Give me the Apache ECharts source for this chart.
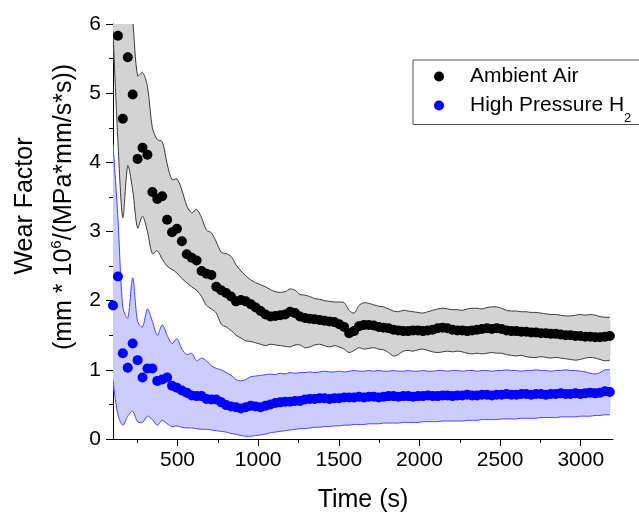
<!DOCTYPE html>
<html><head><meta charset="utf-8">
<script src="https://cdn.jsdelivr.net/npm/echarts@6/dist/echarts.min.js"></script>
<style>html,body{margin:0;padding:0;background:#fff}#c{width:639px;height:518px}</style>
</head><body><div id="c"></div>
<script>
const times = [100,130.5,161,191.5,222,252.5,283,313.5,344,374.5,
405,435.5,466,496.5,527,557.5,588,618.5,649,679.5,
710,740.5,771,801.5,832,862.5,893,923.5,954,984.5,
1015,1045.5,1076,1106.5,1137,1167.5,1198,1228.5,1259,1289.5,
1320,1350.5,1381,1411.5,1442,1472.5,1503,1533.5,1564,1594.5,
1625,1655.5,1686,1716.5,1747,1777.5,1808,1838.5,1869,1899.5,
1930,1960.5,1991,2021.5,2052,2082.5,2113,2143.5,2174,2204.5,
2235,2265.5,2296,2326.5,2357,2387.5,2418,2448.5,2479,2509.5,
2540,2570.5,2601,2631.5,2662,2692.5,2723,2753.5,2784,2814.5,
2845,2875.5,2906,2936.5,2967,2997.5,3028,3058.5,3089,3119.5,
3150,3180.5];

const airWear = [null,5.83,4.63,5.52,4.98,4.05,4.21,4.11,3.57,3.47,
3.51,3.17,2.99,3.04,2.86,2.67,2.62,2.58,2.43,2.39,
2.37,2.20,2.15,2.11,2.06,1.99,2.01,1.99,1.95,1.90,
1.85,1.80,1.77,1.78,1.79,1.80,1.84,1.82,1.77,1.75,
1.74,1.73,1.72,1.71,1.70,1.69,1.66,1.62,1.53,1.56,
1.63,1.65,1.65,1.64,1.62,1.61,1.60,1.58,1.57,1.56,
1.56,1.57,1.57,1.56,1.57,1.58,1.60,1.61,1.60,1.58,
1.57,1.57,1.56,1.57,1.58,1.59,1.60,1.59,1.60,1.59,
1.57,1.56,1.56,1.55,1.55,1.54,1.54,1.53,1.53,1.52,
1.52,1.51,1.50,1.50,1.49,1.49,1.48,1.48,1.47,1.47,
1.48,1.49];

const airUpper = [8.0,7.6,7.0,6.6,6.05,5.25,5.30,5.1,4.5,4.33,
4.3,3.98,3.75,3.76,3.6,3.37,3.27,3.32,3.2,3.02,
2.98,2.85,2.7,2.68,2.64,2.52,2.43,2.36,2.3,2.26,
2.23,2.2,2.16,2.13,2.12,2.13,2.17,2.15,2.09,2.08,
2.06,2.03,2.02,2.0,1.99,1.98,1.98,1.97,1.86,1.82,
1.93,1.97,1.96,1.94,1.92,1.91,1.88,1.85,1.84,1.86,
1.85,1.84,1.83,1.82,1.84,1.86,1.88,1.89,1.88,1.87,
1.87,1.86,1.88,1.89,1.89,1.88,1.9,1.91,1.91,1.89,
1.86,1.85,1.85,1.84,1.84,1.83,1.83,1.82,1.81,1.8,
1.8,1.79,1.78,1.78,1.79,1.8,1.79,1.8,1.79,1.77,
1.76,1.76];

const airLower = [5.9,4.3,3.2,3.95,3.6,3.05,3.22,3.0,2.68,2.72,
2.6,2.5,2.45,2.4,2.32,2.26,2.2,2.15,2.06,1.93,
1.88,1.82,1.66,1.62,1.57,1.5,1.46,1.42,1.41,1.39,
1.37,1.35,1.37,1.36,1.35,1.34,1.33,1.36,1.36,1.32,
1.33,1.36,1.37,1.35,1.33,1.35,1.33,1.30,1.25,1.28,
1.32,1.30,1.31,1.32,1.30,1.29,1.25,1.20,1.22,1.27,
1.28,1.27,1.29,1.30,1.28,1.26,1.25,1.26,1.27,1.26,
1.27,1.26,1.24,1.23,1.24,1.23,1.24,1.25,1.24,1.24,
1.22,1.21,1.20,1.21,1.19,1.18,1.18,1.19,1.18,1.17,
1.18,1.17,1.16,1.15,1.14,1.15,1.17,1.18,1.17,1.15,
1.13,1.14];

const h2Wear = [1.93,2.35,1.24,1.03,1.38,1.14,0.89,1.02,1.02,0.84,
0.86,0.89,0.77,0.74,0.70,0.67,0.63,0.62,0.62,0.58,
0.57,0.57,0.53,0.49,0.47,0.46,0.44,0.46,0.48,0.47,
0.46,0.48,0.50,0.52,0.53,0.54,0.54,0.55,0.55,0.57,
0.58,0.58,0.59,0.59,0.58,0.59,0.59,0.60,0.60,0.60,
0.61,0.60,0.61,0.61,0.60,0.61,0.62,0.62,0.61,0.62,
0.62,0.61,0.62,0.62,0.63,0.62,0.62,0.63,0.63,0.62,
0.63,0.63,0.64,0.63,0.63,0.64,0.64,0.63,0.64,0.64,
0.65,0.64,0.64,0.65,0.65,0.64,0.65,0.65,0.64,0.65,
0.65,0.66,0.65,0.65,0.66,0.65,0.66,0.67,0.66,0.67,
0.69,0.68];

const h2Upper = [4.25,3.2,1.9,1.75,2.33,1.7,1.62,1.88,1.7,1.5,
1.65,1.5,1.38,1.45,1.3,1.22,1.24,1.13,1.17,1.13,
1.06,1.02,1.0,0.96,0.92,0.86,0.84,0.86,0.9,0.91,
0.92,0.93,0.94,0.93,0.95,0.94,0.96,0.95,0.96,0.96,
0.97,0.96,0.97,0.98,0.97,0.97,0.98,0.97,0.98,0.99,
0.98,0.98,0.99,0.98,0.99,0.98,0.98,0.99,0.98,0.98,
0.99,0.98,0.98,0.99,0.98,0.98,0.99,0.99,0.98,0.99,
0.99,0.98,0.99,0.99,0.98,0.99,0.99,0.98,0.99,0.99,
1.0,0.99,0.99,0.98,0.99,0.99,1.0,0.99,0.99,0.98,
0.99,0.99,1.0,0.99,0.99,0.98,0.97,0.95,0.94,0.96,
1.0,1.0];

const h2Lower = [0.85,0.35,0.2,0.33,0.4,0.25,0.24,0.33,0.28,0.2,
0.27,0.22,0.18,0.19,0.17,0.16,0.16,0.15,0.14,0.14,
0.13,0.12,0.11,0.1,0.08,0.07,0.05,0.04,0.04,0.05,
0.06,0.07,0.09,0.1,0.11,0.12,0.13,0.14,0.15,0.15,
0.16,0.17,0.17,0.18,0.18,0.19,0.19,0.2,0.2,0.21,
0.21,0.21,0.22,0.22,0.22,0.23,0.23,0.23,0.23,0.24,
0.24,0.24,0.24,0.25,0.25,0.25,0.25,0.26,0.26,0.26,
0.26,0.26,0.27,0.27,0.27,0.28,0.28,0.28,0.28,0.29,
0.29,0.29,0.29,0.3,0.3,0.3,0.3,0.31,0.31,0.31,
0.31,0.32,0.32,0.32,0.32,0.33,0.33,0.33,0.34,0.34,
0.35,0.35];

const xMajorTicks = [500,1000,1500,2000,2500,3000];
const xMinorTicks = [250,750,1250,1750,2250,2750];
const seriesNames = ['Ambient Air','High Pressure H2'];

const FONT = '"Liberation Sans", Arial, Helvetica, sans-serif';

function pairs(ys){ return times.map((t,i)=>[t, ys[i]]).filter(p=>p[1]!=null); }

function bandSeries(name, lo, up, stroke, fill){
  return {
    type:'custom', name:name, silent:true, clip:true,
    data: times.map((t,i)=>[t, lo[i], up[i]]),
    encode:{x:0, y:[1,2]},
    renderItem:function(params, api){
      if(params.dataIndex!==0) return null;
      const upPts = times.map((t,i)=>api.coord([t, up[i]]));
      const loPts = times.map((t,i)=>api.coord([t, lo[i]]));
      const poly = upPts.concat(loPts.slice().reverse());
      return {type:'group', children:[
        {type:'polygon', shape:{points:poly, smooth:0.3}, style:{fill:fill, stroke:null}},
        {type:'polyline', shape:{points:upPts, smooth:0.3}, style:{stroke:stroke, lineWidth:1, fill:null}},
        {type:'polyline', shape:{points:loPts, smooth:0.3}, style:{stroke:stroke, lineWidth:1, fill:null}}
      ]};
    }
  };
}

const chart = echarts.init(document.getElementById('c'), null, {renderer:'canvas'});
chart.setOption({
  animation:false,
  backgroundColor:'#fff',
  grid:{left:113, right:26, top:24, bottom:78},
  xAxis:[{
    type:'value', min:100, max:3200,
    axisLine:{show:true, lineStyle:{color:'#000', width:1}},
    axisTick:{show:true, length:7, customValues:xMajorTicks, lineStyle:{color:'#000'}},
    axisLabel:{customValues:xMajorTicks, fontSize:21, fontFamily:FONT, color:'#000', margin:11,
      formatter:function(v){ return String(v); }},
    splitLine:{show:false},
    name:'Time (s)', nameLocation:'middle', nameGap:49,
    nameTextStyle:{fontSize:25, fontFamily:FONT, color:'#000'}
  },{
    type:'value', min:100, max:3200, position:'bottom',
    axisLine:{show:false},
    axisTick:{show:true, length:4, customValues:xMinorTicks, lineStyle:{color:'#000'}},
    axisLabel:{show:false}, splitLine:{show:false}
  }],
  yAxis:{
    type:'value', min:0, max:6, interval:1,
    axisLine:{show:true, lineStyle:{color:'#000', width:1}},
    axisTick:{show:true, length:7, lineStyle:{color:'#000'}},
    minorTick:{show:true, splitNumber:2, length:4, lineStyle:{color:'#000'}},
    axisLabel:{fontSize:21, fontFamily:FONT, color:'#000', margin:12, showMinLabel:true, showMaxLabel:true},
    splitLine:{show:false}, minorSplitLine:{show:false}
  },
  legend:{
    data:seriesNames, orient:'vertical', left:413, top:60,
    padding:[6,35,0,21], itemGap:8, itemWidth:10, itemHeight:10, icon:'circle',
    borderColor:'#555', borderWidth:1, borderRadius:0, backgroundColor:'#fff',
    formatter:function(n){ return n==='High Pressure H2' ? '{m|High Pressure H}{sub|2}' : '{m|'+n+'}'; },
    textStyle:{fontSize:21, fontFamily:FONT, color:'#000',
      rich:{
        m:{fontSize:21, fontFamily:FONT, color:'#000', lineHeight:24, padding:[0,0,0,21]},
        sub:{fontSize:13, fontFamily:FONT, color:'#000', lineHeight:38, verticalAlign:'bottom'}
      }}
  },
  graphic:[
    {type:'text', x:25, y:206, rotation:Math.PI/2,
     style:{text:'Wear Factor', fontSize:25, fontFamily:FONT, fill:'#000', align:'center', verticalAlign:'middle'}},
    {type:'text', x:64, y:207, rotation:Math.PI/2,
     style:{text:'{b|(mm * 10}{sup|6}{b|/(MPa*mm/s*s))}', align:'center', verticalAlign:'middle',
       rich:{
         b:{fontSize:25, fontFamily:FONT, fill:'#000', lineHeight:30},
         sup:{fontSize:15, fontFamily:FONT, fill:'#000', lineHeight:30, verticalAlign:'top'}
       }}}
  ],
  series:[
    bandSeries('airBand', airLower, airUpper, '#3a3a3a', '#d3d3d3'),
    bandSeries('h2Band', h2Lower, h2Upper, '#4646ff', '#ccccff'),
    {type:'scatter', name:seriesNames[0], data:pairs(airWear), symbol:'circle', symbolSize:10,
     itemStyle:{color:'#000', opacity:1}},
    {type:'scatter', name:seriesNames[1], data:pairs(h2Wear), symbol:'circle', symbolSize:10,
     itemStyle:{color:'#0000ff', opacity:1}}
  ]
});
</script></body></html>
